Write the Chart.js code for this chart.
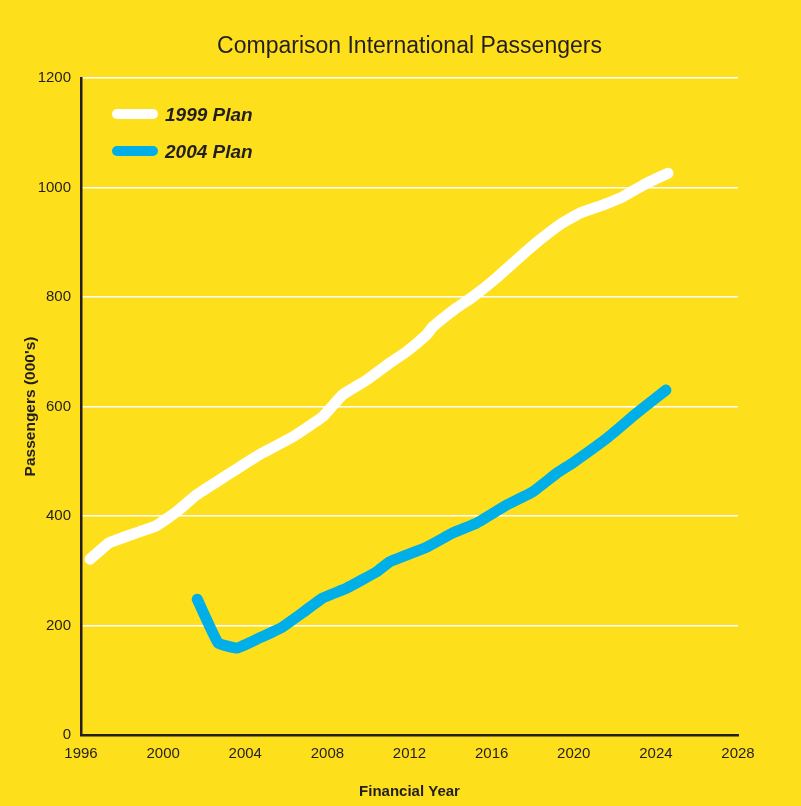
<!DOCTYPE html>
<html>
<head>
<meta charset="utf-8">
<title>Comparison International Passengers</title>
<script src="https://cdn.jsdelivr.net/npm/chart.js@4.4.1/dist/chart.umd.min.js"></script>
<style>
    html, body {
        margin: 0;
        padding: 0;
        background: #fedf1c;
    }
    #wrap {
        position: relative;
        width: 801px;
        height: 806px;
    }
</style>
</head>
<body>
<div id="wrap">
    <canvas id="myChart" width="801" height="806"></canvas>
</div>
<script>
// 1999 plan forecast (financial year, passengers in 000's)
var plan1999Years = [1996.44, 1997.37, 1998.83, 1999.66, 2000.63, 2001.61, 2002.59, 2003.71, 2004.83,
    2006.29, 2007.76, 2008.73, 2009.90, 2011.02, 2011.85, 2012.83, 2013.12, 2014.29, 2015.07,
    2016.24, 2017.22, 2018.34, 2019.32, 2020.29, 2021.41, 2022.39, 2023.56, 2024.59];
var plan1999Values = [321, 351, 371, 382, 407, 438, 462, 489, 515,
    544, 581, 621, 648, 679, 700, 731, 745, 780, 800,
    835, 868, 904, 932, 953, 968, 983, 1008, 1026];

// 2004 plan forecast
var plan2004Years = [2001.66, 2002.68, 2003.61, 2004.68, 2005.80, 2006.78, 2007.76, 2008.93, 2010.39,
    2011.02, 2012.83, 2014.10, 2015.27, 2016.73, 2018.00, 2019.17, 2019.95, 2021.61, 2023.07, 2024.49];
var plan2004Values = [248, 168, 159, 177, 197, 223, 250, 268, 298,
    316, 343, 369, 387, 420, 444, 478, 497, 542, 588, 630];

var seriesLabels = ['1999 Plan', '2004 Plan'];
var seriesColors = ['#ffffff', '#00aee8'];

var xTicks = [1996, 2000, 2004, 2008, 2012, 2016, 2020, 2024, 2028];
var yTicks = [0, 200, 400, 600, 800, 1000, 1200];

var textColor = '#231f20';
var fontFamily = '"Liberation Sans", Arial, Helvetica, sans-serif';

function toPoints(xs, ys) {
    var pts = [];
    for (var i = 0; i < xs.length; i++) {
        pts.push({ x: xs[i], y: ys[i] });
    }
    return pts;
}

// 标题和图例手动绘制
var decorPlugin = {
    id: 'decor',
    afterDraw: function (chart) {
        var ctx = chart.ctx;
        var area = chart.chartArea;
        ctx.save();

        ctx.fillStyle = textColor;
        ctx.font = '23px ' + fontFamily;
        ctx.textAlign = 'center';
        ctx.textBaseline = 'middle';
        ctx.fillText('Comparison International Passengers', (area.left + area.right) / 2, 47);

        var ds = chart.data.datasets;
        for (var i = 0; i < ds.length; i++) {
            var y = 114 + i * 37;
            ctx.strokeStyle = ds[i].borderColor;
            ctx.lineWidth = 10;
            ctx.lineCap = 'round';
            ctx.beginPath();
            ctx.moveTo(117, y);
            ctx.lineTo(153, y);
            ctx.stroke();

            ctx.fillStyle = textColor;
            ctx.font = 'italic bold 19px ' + fontFamily;
            ctx.textAlign = 'left';
            ctx.fillText(ds[i].label, 165, y + 2);
        }
        ctx.restore();
    }
};

document.addEventListener('DOMContentLoaded', function () {
    var ctx = document.getElementById('myChart').getContext('2d');
    new Chart(ctx, {
        type: 'line',
        data: {
            datasets: [
                {
                    label: seriesLabels[0],
                    data: toPoints(plan1999Years, plan1999Values),
                    borderColor: seriesColors[0],
                    borderWidth: 11,
                    borderCapStyle: 'round',
                    borderJoinStyle: 'round',
                    pointRadius: 0,
                    tension: 0.1,
                    fill: false
                },
                {
                    label: seriesLabels[1],
                    data: toPoints(plan2004Years, plan2004Values),
                    borderColor: seriesColors[1],
                    borderWidth: 11,
                    borderCapStyle: 'round',
                    borderJoinStyle: 'round',
                    pointRadius: 0,
                    tension: 0.1,
                    fill: false
                }
            ]
        },
        options: {
            responsive: false,
            animation: false,
            layout: {
                padding: { left: 0, top: 78, right: 63, bottom: 0 }
            },
            scales: {
                x: {
                    type: 'linear',
                    min: 1996,
                    max: 2028,
                    afterBuildTicks: function (scale) {
                        scale.ticks = xTicks.map(function (v) { return { value: v }; });
                    },
                    afterFit: function (scale) {
                        scale.height = 71;
                    },
                    grid: { display: false, drawTicks: false },
                    border: { display: true, color: textColor, width: 2.5 },
                    ticks: {
                        padding: 10,
                        color: textColor,
                        font: { family: fontFamily, size: 15 },
                        callback: function (v) { return String(v); }
                    },
                    title: {
                        display: true,
                        text: 'Financial Year',
                        color: textColor,
                        font: { family: fontFamily, size: 15, weight: 'bold' },
                        padding: { top: 4, bottom: 5 }
                    }
                },
                y: {
                    min: 0,
                    max: 1200,
                    afterBuildTicks: function (scale) {
                        scale.ticks = yTicks.map(function (v) { return { value: v }; });
                    },
                    afterFit: function (scale) {
                        scale.width = 81;
                    },
                    grid: { color: '#ffffff', lineWidth: 1.5, drawTicks: false },
                    border: { display: true, color: textColor, width: 2.5 },
                    ticks: {
                        padding: 10,
                        color: textColor,
                        font: { family: fontFamily, size: 15 },
                        callback: function (v) { return String(v); }
                    },
                    title: {
                        display: true,
                        text: "Passengers (000's)",
                        color: textColor,
                        font: { family: fontFamily, size: 15.5, weight: 'bold' },
                        padding: { top: 21, bottom: 0 }
                    }
                }
            },
            plugins: {
                legend: { display: false },
                title: { display: false },
                tooltip: { enabled: false }
            }
        },
        plugins: [decorPlugin]
    });
});
</script>
</body>
</html>
